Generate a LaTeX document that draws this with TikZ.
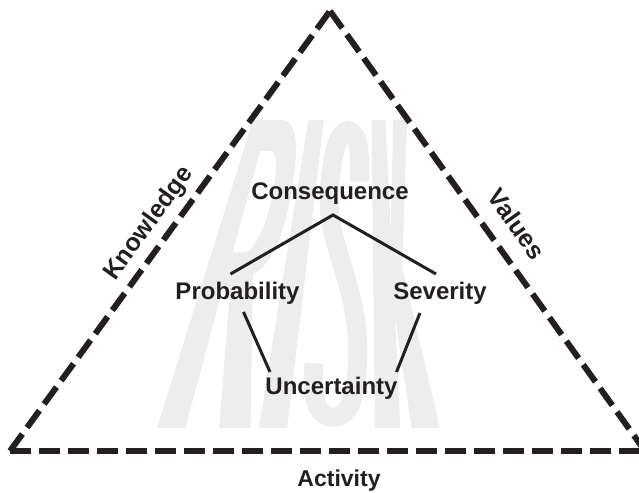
\documentclass[tikz,border=0pt]{standalone}
\usepackage{fontspec}
\setmainfont{Liberation Sans}
\definecolor{ink}{RGB}{35,31,32}
\definecolor{wmgray}{RGB}{237,237,237}
\makeatletter
\tikzdeclarecoordinatesystem{wm}{%
  \tikzset{cs/.cd,u/.store in=\wm@u,v/.store in=\wm@v,#1}%
  \pgfmathsetmacro\wm@x{157+96*\wm@v+\wm@u*(283-129*\wm@v)}%
  \pgfmathsetmacro\wm@y{428-308*\wm@v}%
  \pgfpointxy{\wm@x}{\wm@y}}
\makeatother
\begin{document}
\begin{tikzpicture}[x=1pt,y=-1pt,
  tri/.style={line width=6pt, dash pattern=on 21pt off 8pt, draw=ink},
  conn/.style={line width=3pt, draw=ink},
  lbl/.style={font=\fontsize{24}{28}\selectfont\bfseries, text=ink, inner sep=0pt, anchor=base},
  side/.style={font=\fontsize{25}{30}\selectfont\bfseries, text=ink, inner sep=0pt},
  wmfill/.style={fill=wmgray, draw=none}]
\useasboundingbox (0,0) rectangle (639,492);
% watermark RISK (perspective letters)
% R
\fill[wmfill, even odd rule]
 (wm cs:u=0,v=0) -- (wm cs:u=0,v=1) -- (wm cs:u=0.18,v=1)
 .. controls (wm cs:u=0.30,v=1) and (wm cs:u=0.33,v=0.9) .. (wm cs:u=0.33,v=0.76)
 .. controls (wm cs:u=0.33,v=0.6) and (wm cs:u=0.29,v=0.53) .. (wm cs:u=0.22,v=0.5)
 -- (wm cs:u=0.33,v=0) -- (wm cs:u=0.22,v=0) -- (wm cs:u=0.13,v=0.46)
 -- (wm cs:u=0.1,v=0.46) -- (wm cs:u=0.1,v=0) -- cycle
 (wm cs:u=0.1,v=0.57) -- (wm cs:u=0.1,v=0.9) -- (wm cs:u=0.16,v=0.9)
 .. controls (wm cs:u=0.21,v=0.9) and (wm cs:u=0.23,v=0.83) .. (wm cs:u=0.23,v=0.74)
 .. controls (wm cs:u=0.23,v=0.64) and (wm cs:u=0.2,v=0.57) .. (wm cs:u=0.15,v=0.57) -- cycle;
% I
\fill[wmfill] (wm cs:u=0.36,v=0) -- (wm cs:u=0.36,v=1) -- (wm cs:u=0.46,v=1) -- (wm cs:u=0.46,v=0) -- cycle;
% S
\draw[wmgray, line width=19pt]
 (wm cs:u=0.70,v=0.80) .. controls (wm cs:u=0.70,v=0.93) and (wm cs:u=0.67,v=0.965) .. (wm cs:u=0.62,v=0.965)
 .. controls (wm cs:u=0.57,v=0.965) and (wm cs:u=0.535,v=0.92) .. (wm cs:u=0.535,v=0.78)
 .. controls (wm cs:u=0.535,v=0.60) and (wm cs:u=0.705,v=0.47) .. (wm cs:u=0.705,v=0.24)
 .. controls (wm cs:u=0.705,v=0.08) and (wm cs:u=0.67,v=0.035) .. (wm cs:u=0.62,v=0.035)
 .. controls (wm cs:u=0.57,v=0.035) and (wm cs:u=0.535,v=0.08) .. (wm cs:u=0.535,v=0.21);
% K
\fill[wmfill] (wm cs:u=0.77,v=0) -- (wm cs:u=0.77,v=1) -- (wm cs:u=0.86,v=1) -- (wm cs:u=0.86,v=0.64)
 -- (wm cs:u=0.91,v=1) -- (wm cs:u=1.0,v=1) -- (wm cs:u=0.905,v=0.52) -- (wm cs:u=1.0,v=0)
 -- (wm cs:u=0.9,v=0) -- (wm cs:u=0.86,v=0.36) -- (wm cs:u=0.86,v=0) -- cycle;
% triangle
\coordinate (apex) at (330,11);
\coordinate (bl) at (10,451);
\coordinate (br) at (645,451);
\draw[tri] (bl) -- (apex);
\draw[tri] (apex) -- (br);
\draw[tri] (bl) -- (br);
% labels
\node[lbl] (cons) at (330,199) {Consequence};
\node[lbl] (prob) at (237.5,299) {Probability};
\node[lbl] (sev) at (440,299) {Severity};
\node[lbl] (unc) at (331.5,394) {Uncertainty};
\node[lbl, font=\fontsize{23}{28}\selectfont\bfseries] (act) at (339,486) {Activity};
\node[side, rotate=54.2] (know) at (149,224) {Knowledge};
\node[side, rotate=-54.7] (val) at (517,224) {Values};
% connectors
\draw[conn] ([xshift=-7pt,yshift=25pt]prob.base) -- ([xshift=3pt,yshift=-16pt]cons.base) -- ([xshift=-4pt,yshift=25pt]sev.base);
\draw[conn] ([xshift=6pt,yshift=-13pt]prob.base) -- ([xshift=-61.5pt,yshift=22pt]unc.base);
\draw[conn] ([xshift=-20pt,yshift=-14pt]sev.base) -- ([xshift=65pt,yshift=22pt]unc.base);
\end{tikzpicture}
\end{document}
